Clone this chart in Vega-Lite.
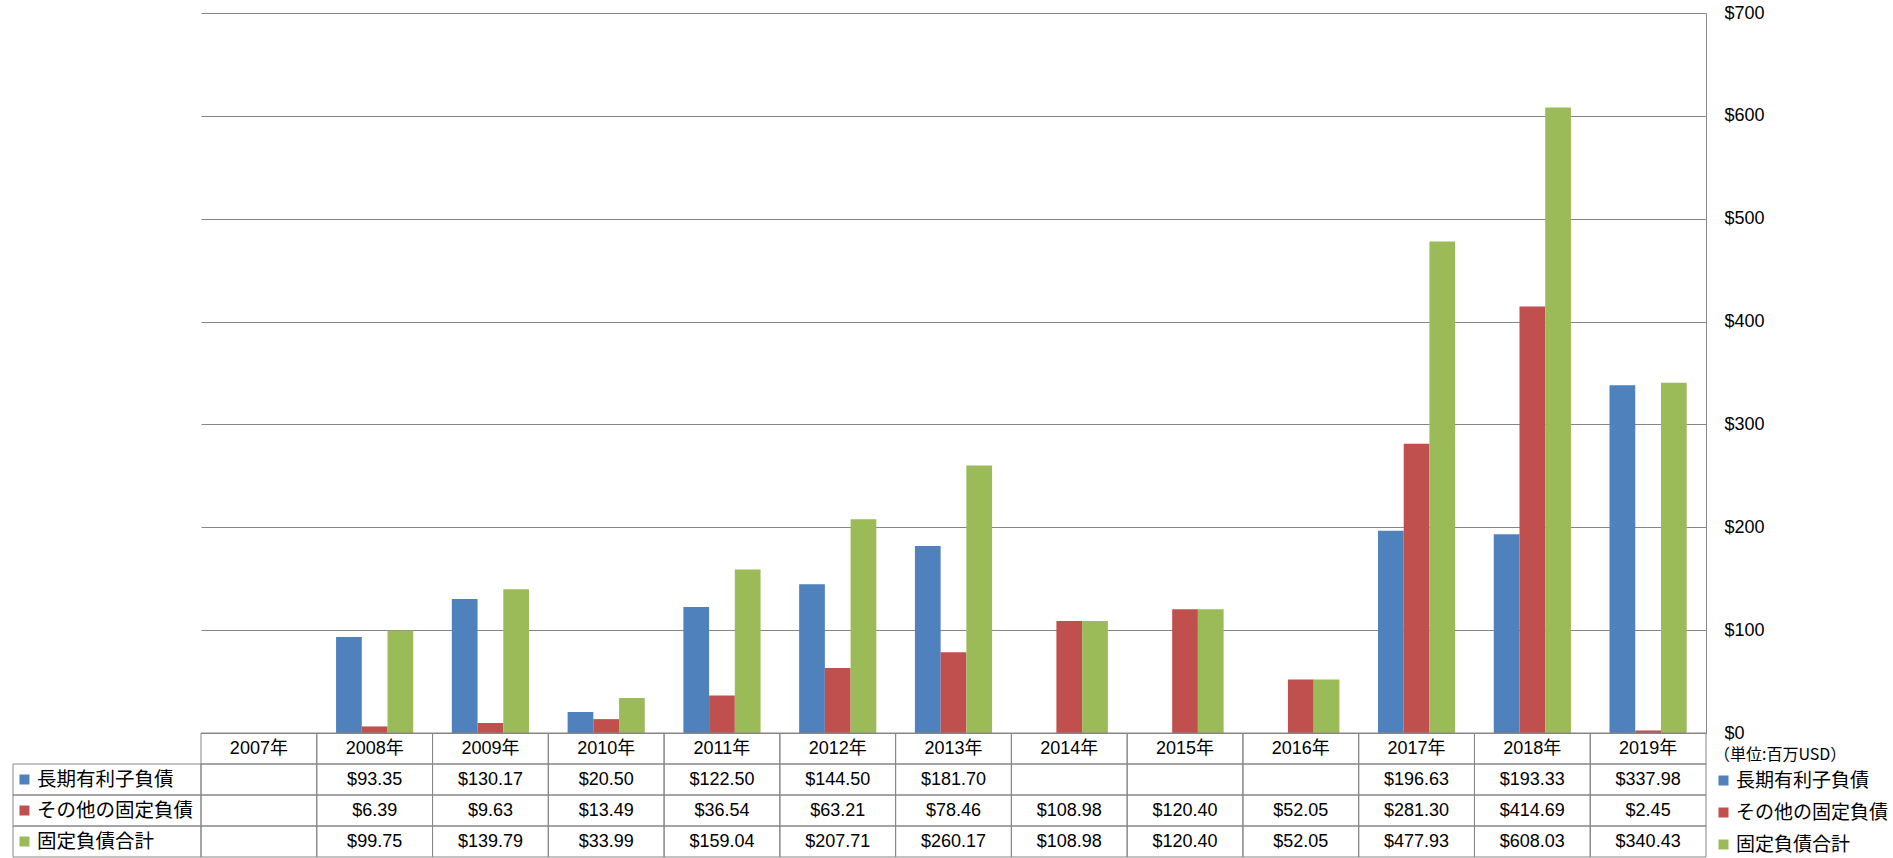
{
  "$schema": "https://vega.github.io/schema/vega-lite/v6.json",
  "padding": {"top": 4, "left": 12, "right": 0, "bottom": 0},
  "background": "#ffffff",
  "columns": 2,
  "spacing": 0,
  "bounds": "flush",
  "resolve": {"scale": {"x": "independent", "y": "independent", "color": "independent"}, "legend": {"color": "independent"}},
  "config": {"view": {"stroke": null}},
  "datasets": {
    "years": [
      {"year": "2007年"}, {"year": "2008年"}, {"year": "2009年"}, {"year": "2010年"}, {"year": "2011年"}, {"year": "2012年"}, {"year": "2013年"},
      {"year": "2014年"}, {"year": "2015年"}, {"year": "2016年"}, {"year": "2017年"}, {"year": "2018年"}, {"year": "2019年"}
    ],
    "series": [
      {"series": "長期有利子負債"}, {"series": "その他の固定負債"}, {"series": "固定負債合計"}
    ],
    "vals": [
      {"year": "2007年", "series": "長期有利子負債", "value": null},
      {"year": "2008年", "series": "長期有利子負債", "value": 93.35},
      {"year": "2009年", "series": "長期有利子負債", "value": 130.17},
      {"year": "2010年", "series": "長期有利子負債", "value": 20.50},
      {"year": "2011年", "series": "長期有利子負債", "value": 122.50},
      {"year": "2012年", "series": "長期有利子負債", "value": 144.50},
      {"year": "2013年", "series": "長期有利子負債", "value": 181.70},
      {"year": "2014年", "series": "長期有利子負債", "value": null},
      {"year": "2015年", "series": "長期有利子負債", "value": null},
      {"year": "2016年", "series": "長期有利子負債", "value": null},
      {"year": "2017年", "series": "長期有利子負債", "value": 196.63},
      {"year": "2018年", "series": "長期有利子負債", "value": 193.33},
      {"year": "2019年", "series": "長期有利子負債", "value": 337.98},
      {"year": "2007年", "series": "その他の固定負債", "value": null},
      {"year": "2008年", "series": "その他の固定負債", "value": 6.39},
      {"year": "2009年", "series": "その他の固定負債", "value": 9.63},
      {"year": "2010年", "series": "その他の固定負債", "value": 13.49},
      {"year": "2011年", "series": "その他の固定負債", "value": 36.54},
      {"year": "2012年", "series": "その他の固定負債", "value": 63.21},
      {"year": "2013年", "series": "その他の固定負債", "value": 78.46},
      {"year": "2014年", "series": "その他の固定負債", "value": 108.98},
      {"year": "2015年", "series": "その他の固定負債", "value": 120.40},
      {"year": "2016年", "series": "その他の固定負債", "value": 52.05},
      {"year": "2017年", "series": "その他の固定負債", "value": 281.30},
      {"year": "2018年", "series": "その他の固定負債", "value": 414.69},
      {"year": "2019年", "series": "その他の固定負債", "value": 2.45},
      {"year": "2007年", "series": "固定負債合計", "value": null},
      {"year": "2008年", "series": "固定負債合計", "value": 99.75},
      {"year": "2009年", "series": "固定負債合計", "value": 139.79},
      {"year": "2010年", "series": "固定負債合計", "value": 33.99},
      {"year": "2011年", "series": "固定負債合計", "value": 159.04},
      {"year": "2012年", "series": "固定負債合計", "value": 207.71},
      {"year": "2013年", "series": "固定負債合計", "value": 260.17},
      {"year": "2014年", "series": "固定負債合計", "value": 108.98},
      {"year": "2015年", "series": "固定負債合計", "value": 120.40},
      {"year": "2016年", "series": "固定負債合計", "value": 52.05},
      {"year": "2017年", "series": "固定負債合計", "value": 477.93},
      {"year": "2018年", "series": "固定負債合計", "value": 608.03},
      {"year": "2019年", "series": "固定負債合計", "value": 340.43}
    ]
  },
  "concat": [
    {
      "width": 188,
      "height": 720,
      "data": {"values": [{}]},
      "mark": {"type": "text"},
      "encoding": {"text": {"value": ""}}
    },
    {
      "width": 1505,
      "height": 720,
      "data": {"name": "vals"},
      "transform": [{"filter": "datum.value != null"}],
      "mark": {"type": "bar"},
      "encoding": {
        "x": {
          "field": "year", "type": "nominal",
          "scale": {"domain": ["2007年","2008年","2009年","2010年","2011年","2012年","2013年","2014年","2015年","2016年","2017年","2018年","2019年"], "paddingInner": 0.3333, "paddingOuter": 0.1667},
          "axis": null
        },
        "xOffset": {
          "field": "series", "type": "nominal",
          "scale": {"domain": ["長期有利子負債", "その他の固定負債", "固定負債合計"], "paddingInner": 0, "paddingOuter": 0}
        },
        "y": {
          "field": "value", "type": "quantitative",
          "scale": {"domain": [0, 700], "nice": false},
          "axis": {
            "orient": "right", "title": null, "values": [0, 100, 200, 300, 400, 500, 600, 700],
            "format": "$.0f", "grid": true, "gridColor": "#868686", "gridWidth": 1,
            "domain": true, "domainColor": "#868686", "domainWidth": 1, "ticks": false,
            "labelPadding": 18, "labelFont": "Liberation Sans", "labelFontSize": 18, "labelColor": "#000000"
          }
        },
        "color": {
          "field": "series", "type": "nominal",
          "scale": {"domain": ["長期有利子負債", "その他の固定負債", "固定負債合計"], "range": ["#4F81BD", "#C0504D", "#9BBB59"]},
          "legend": null
        }
      }
    },
    {
      "width": 188,
      "height": 124,
      "data": {"name": "series"},
      "encoding": {
        "y": {
          "field": "series", "type": "nominal",
          "scale": {"domain": ["hdr", "長期有利子負債", "その他の固定負債", "固定負債合計"], "paddingInner": 0, "paddingOuter": 0},
          "axis": null
        }
      },
      "layer": [
        {
          "mark": {"type": "rect", "fillOpacity": 0, "stroke": "#868686", "strokeWidth": 1},
          "encoding": {
            "x": {"datum": "label", "type": "nominal", "scale": {"domain": ["label"], "paddingInner": 0, "paddingOuter": 0}, "axis": null}
          }
        },
        {
          "mark": {"type": "point", "shape": "square", "filled": true, "size": 100, "opacity": 1},
          "encoding": {
            "x": {"datum": "label", "type": "nominal", "bandPosition": 0.061},
            "color": {
              "field": "series", "type": "nominal",
              "scale": {"domain": ["長期有利子負債", "その他の固定負債", "固定負債合計"], "range": ["#4F81BD", "#C0504D", "#9BBB59"]},
              "legend": null
            }
          }
        },
        {
          "mark": {"type": "text", "align": "left", "baseline": "middle", "font": "Noto Sans CJK JP", "fontSize": 19.5, "color": "#000000"},
          "encoding": {
            "x": {"datum": "label", "type": "nominal", "bandPosition": 0.128},
            "text": {"field": "series"}
          }
        }
      ]
    },
    {
      "width": 1505,
      "height": 124,
      "encoding": {
        "x": {
          "field": "year", "type": "nominal",
          "scale": {"domain": ["2007年","2008年","2009年","2010年","2011年","2012年","2013年","2014年","2015年","2016年","2017年","2018年","2019年"], "paddingInner": 0, "paddingOuter": 0},
          "axis": null
        }
      },
      "layer": [
        {
          "data": {"name": "vals"},
          "mark": {"type": "rect", "fillOpacity": 0, "stroke": "#868686", "strokeWidth": 1},
          "encoding": {
            "y": {
              "field": "series", "type": "nominal",
              "scale": {"domain": ["hdr", "長期有利子負債", "その他の固定負債", "固定負債合計"], "paddingInner": 0, "paddingOuter": 0},
              "axis": null
            }
          }
        },
        {
          "data": {"name": "years"},
          "mark": {"type": "rect", "fillOpacity": 0, "stroke": "#868686", "strokeWidth": 1},
          "encoding": {"y": {"datum": "hdr", "type": "nominal"}}
        },
        {
          "data": {"name": "years"},
          "mark": {"type": "text", "align": "center", "baseline": "middle", "font": "Liberation Sans, Noto Sans CJK JP", "fontSize": 18, "color": "#000000"},
          "encoding": {"y": {"datum": "hdr", "type": "nominal"}, "text": {"field": "year"}}
        },
        {
          "data": {"name": "vals"},
          "transform": [{"filter": "datum.value != null"}],
          "mark": {"type": "text", "align": "center", "baseline": "middle", "font": "Liberation Sans", "fontSize": 18, "color": "#000000"},
          "encoding": {
            "y": {"field": "series", "type": "nominal"},
            "text": {"field": "value", "type": "quantitative", "format": "$.2f"}
          }
        },
        {
          "data": {"name": "vals"},
          "mark": {"type": "point", "filled": true, "opacity": 0, "shape": "square"},
          "encoding": {
            "y": {"field": "series", "type": "nominal"},
            "color": {
              "field": "series", "type": "nominal",
              "scale": {"domain": ["長期有利子負債", "その他の固定負債", "固定負債合計"], "range": ["#4F81BD", "#C0504D", "#9BBB59"]},
              "legend": {
                "title": "（単位:百万USD）", "orient": "none", "legendX": 1513, "legendY": 14,
                "symbolType": "square", "symbolSize": 100, "symbolOpacity": 1, "symbolStrokeWidth": 0,
                "labelFont": "Noto Sans CJK JP", "labelFontSize": 19, "labelColor": "#000000", "labelOffset": 3, "labelLimit": 0,
                "titleFont": "Noto Sans CJK JP", "titleFontSize": 16, "titleFontWeight": "normal", "titleColor": "#000000",
                "titlePadding": 8, "rowPadding": 12
              }
            }
          }
        }
      ]
    }
  ]
}
